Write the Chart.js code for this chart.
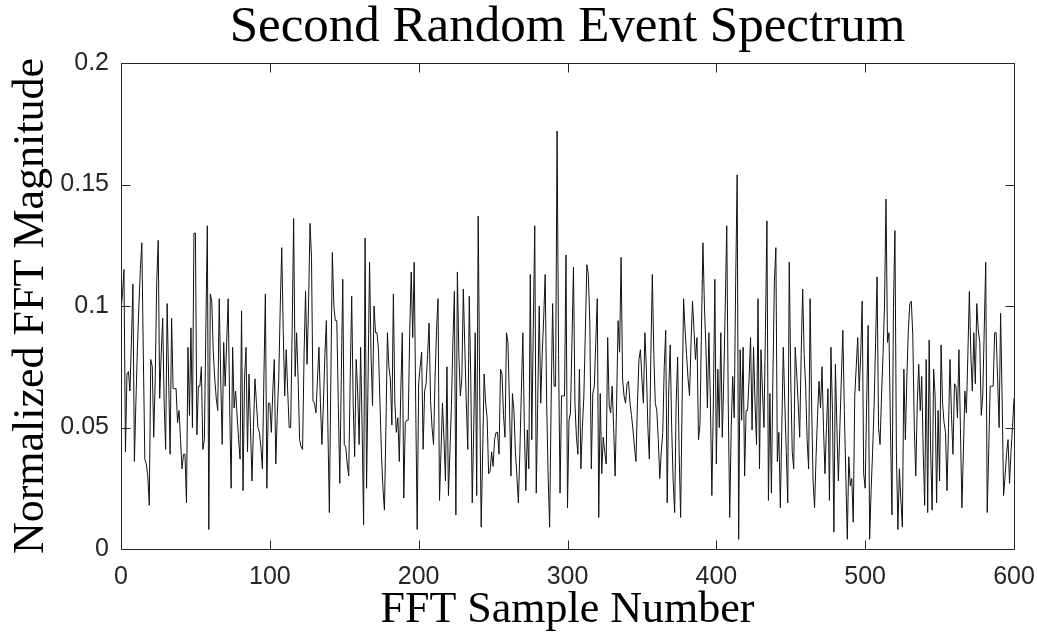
<!DOCTYPE html>
<html>
<head>
<meta charset="utf-8">
<script src="https://cdn.jsdelivr.net/npm/chart.js@4.4.1/dist/chart.umd.min.js"></script>
<style>
html,body{margin:0;padding:0;background:#fff;}
#wrap{width:1037px;height:635px;}
</style>
</head>
<body>
<div id="wrap"><canvas id="c" width="1037" height="635"></canvas></div>
<script>
const chartTitle = "Second Random Event Spectrum";
const xAxisTitle = "FFT Sample Number";
const yAxisTitle = "Normalized FFT Magnitude";
const xTickValues = [0, 100, 200, 300, 400, 500, 600];
const yTickValues = [0, 0.05, 0.1, 0.15, 0.2];

const magnitudeA = [
0.098,0.105,0.115,0.040,0.072,0.073,0.065,0.085,0.109,0.036,
0.060,0.082,0.100,0.115,0.126,0.080,0.037,0.035,0.030,0.018,
0.078,0.075,0.046,0.070,0.110,0.127,0.062,0.080,0.095,0.060,
0.041,0.101,0.070,0.039,0.095,0.066,0.066,0.066,0.052,0.057,
0.045,0.033,0.039,0.039,0.019,0.083,0.055,0.091,0.050,0.130,
0.130,0.047,0.067,0.067,0.075,0.041,0.045,0.090,0.133,0.008,
0.105,0.102,0.081,0.070,0.062,0.057,0.103,0.070,0.043,0.085,
0.067,0.085,0.103,0.060,0.025,0.083,0.058,0.065,0.055,0.045,
0.037,0.098,0.024,0.070,0.083,0.040,0.072,0.050,0.028,0.050,
0.070,0.060,0.050,0.048,0.042,0.033,0.070,0.105,0.025,0.060
];
const magnitudeB = [
0.060,0.048,0.065,0.078,0.035,0.055,0.070,0.100,0.124,0.090,
0.063,0.082,0.065,0.050,0.050,0.090,0.136,0.071,0.089,0.070,
0.045,0.042,0.041,0.080,0.106,0.076,0.100,0.134,0.120,0.061,
0.060,0.056,0.070,0.083,0.060,0.043,0.060,0.080,0.094,0.050,
0.015,0.070,0.122,0.100,0.094,0.094,0.060,0.027,0.070,0.111,
0.043,0.042,0.035,0.030,0.070,0.104,0.060,0.038,0.078,0.065,
0.043,0.083,0.050,0.010,0.128,0.025,0.070,0.118,0.080,0.059,
0.100,0.089,0.089,0.082,0.060,0.039,0.025,0.016,0.050,0.089,
0.075,0.070,0.051,0.105,0.060,0.048,0.054,0.036,0.065,0.089,
0.021,0.052,0.053,0.053,0.090,0.114,0.087,0.118,0.060,0.008
];
const magnitudeC = [
0.068,0.075,0.081,0.041,0.065,0.068,0.080,0.093,0.061,0.050,
0.043,0.070,0.090,0.103,0.020,0.040,0.060,0.045,0.028,0.075,
0.022,0.040,0.059,0.085,0.106,0.014,0.114,0.080,0.063,0.070,
0.107,0.083,0.060,0.041,0.104,0.070,0.019,0.050,0.089,0.022,
0.137,0.065,0.009,0.040,0.072,0.060,0.054,0.031,0.032,0.040,
0.034,0.045,0.048,0.048,0.039,0.074,0.072,0.055,0.046,0.089,
0.085,0.060,0.030,0.064,0.057,0.040,0.030,0.019,0.040,0.065,
0.089,0.050,0.024,0.049,0.033,0.113,0.045,0.090,0.133,0.023,
0.060,0.100,0.060,0.080,0.095,0.113,0.060,0.030,0.009,0.060,
0.101,0.067,0.067,0.172,0.080,0.023,0.063,0.063,0.063,0.121
];
const magnitudeD = [
0.017,0.053,0.056,0.085,0.116,0.060,0.046,0.039,0.074,0.033,
0.050,0.063,0.090,0.117,0.113,0.093,0.033,0.064,0.067,0.085,
0.103,0.013,0.064,0.031,0.046,0.040,0.035,0.087,0.059,0.056,
0.067,0.050,0.030,0.060,0.094,0.081,0.120,0.070,0.063,0.060,
0.068,0.069,0.060,0.055,0.049,0.042,0.036,0.060,0.078,0.082,
0.070,0.060,0.089,0.074,0.050,0.037,0.080,0.113,0.080,0.060,
0.057,0.045,0.029,0.040,0.048,0.075,0.090,0.019,0.065,0.084,
0.050,0.028,0.015,0.060,0.079,0.040,0.013,0.060,0.103,0.090,
0.080,0.070,0.063,0.085,0.102,0.090,0.078,0.087,0.045,0.051,
0.090,0.126,0.100,0.083,0.058,0.089,0.060,0.022,0.060,0.111
];
const magnitudeE = [
0.035,0.074,0.050,0.089,0.046,0.070,0.100,0.133,0.060,0.013,
0.050,0.071,0.054,0.110,0.154,0.004,0.082,0.053,0.083,0.030,
0.057,0.057,0.070,0.087,0.049,0.083,0.060,0.043,0.103,0.033,
0.082,0.065,0.050,0.090,0.135,0.020,0.064,0.023,0.070,0.110,
0.124,0.036,0.048,0.017,0.050,0.083,0.060,0.040,0.019,0.118,
0.070,0.040,0.033,0.083,0.072,0.060,0.046,0.080,0.107,0.080,
0.067,0.045,0.033,0.103,0.060,0.028,0.017,0.038,0.055,0.069,
0.058,0.075,0.050,0.031,0.050,0.066,0.020,0.083,0.057,0.007,
0.076,0.050,0.028,0.050,0.070,0.090,0.057,0.030,0.004,0.038,
0.026,0.029,0.011,0.063,0.075,0.087,0.065,0.080,0.102,0.031
];
const magnitudeF = [
0.025,0.060,0.092,0.004,0.024,0.040,0.059,0.085,0.112,0.050,
0.043,0.063,0.080,0.100,0.144,0.085,0.089,0.050,0.014,0.099,
0.131,0.040,0.008,0.033,0.020,0.009,0.074,0.045,0.070,0.090,
0.101,0.102,0.088,0.050,0.030,0.060,0.076,0.057,0.071,0.040,
0.018,0.078,0.015,0.086,0.040,0.016,0.074,0.063,0.019,0.057,
0.028,0.084,0.060,0.052,0.048,0.024,0.050,0.078,0.055,0.039,
0.068,0.067,0.054,0.082,0.050,0.017,0.040,0.065,0.056,0.080,
0.106,0.080,0.065,0.089,0.068,0.101,0.090,0.085,0.055,0.063,
0.090,0.118,0.015,0.040,0.067,0.067,0.067,0.089,0.089,0.070,
0.050,0.097,0.063,0.022,0.030,0.039,0.045,0.027,0.040,0.050,
0.062
];
const magnitude = [].concat(magnitudeA, magnitudeB, magnitudeC, magnitudeD, magnitudeE, magnitudeF);
const sampleNumbers = magnitude.map((v, i) => i);
const points = magnitude.map((v, i) => ({x: sampleNumbers[i], y: v}));

const AXIS_COLOR = '#262626';
const TICK_LEN = 9;
const SERIF = '"Liberation Serif", "DejaVu Serif", serif';
const SANS = '"Liberation Sans", Arial, sans-serif';

const boxPlugin = {
  id: 'matlabBox',
  afterDatasetsDraw(chart) {
    const {ctx, chartArea, scales} = chart;
    const l = Math.round(chartArea.left) + 0.5, r = Math.round(chartArea.right) + 0.5;
    const t = Math.round(chartArea.top) + 0.5, b = Math.round(chartArea.bottom) + 0.5;
    ctx.save();
    ctx.strokeStyle = AXIS_COLOR;
    ctx.lineWidth = 1;
    ctx.beginPath();
    ctx.rect(l, t, r - l, b - t);
    scales.x.ticks.forEach(tk => {
      const px = Math.round(scales.x.getPixelForValue(tk.value)) + 0.5;
      ctx.moveTo(px, b); ctx.lineTo(px, b - TICK_LEN);
      ctx.moveTo(px, t); ctx.lineTo(px, t + TICK_LEN);
    });
    scales.y.ticks.forEach(tk => {
      const py = Math.round(scales.y.getPixelForValue(tk.value)) + 0.5;
      ctx.moveTo(l, py); ctx.lineTo(l + TICK_LEN, py);
      ctx.moveTo(r, py); ctx.lineTo(r - TICK_LEN, py);
    });
    ctx.stroke();
    // title centred over the plot area
    ctx.fillStyle = '#000';
    ctx.font = '51px ' + SERIF;
    ctx.textAlign = 'center';
    ctx.textBaseline = 'alphabetic';
    ctx.fillText(chartTitle, (chartArea.left + chartArea.right) / 2, 41);
    ctx.restore();
  }
};

new Chart(document.getElementById('c'), {
  type: 'line',
  data: {
    datasets: [{
      data: points,
      borderColor: '#111111',
      borderWidth: 1,
      pointRadius: 0,
      tension: 0,
      fill: false
    }]
  },
  options: {
    responsive: false,
    animation: false,
    devicePixelRatio: 1,
    layout: {padding: {left: 0, right: 23, top: 63, bottom: 0}},
    plugins: {
      legend: {display: false},
      tooltip: {enabled: false},
      title: {display: false}
    },
    scales: {
      x: {
        type: 'linear',
        min: 0, max: 600,
        afterBuildTicks: s => { s.ticks = xTickValues.map(v => ({value: v})); },
        afterFit: s => { s.height = 86; s.paddingLeft = 0; s.paddingRight = 0; },
        grid: {display: false, drawTicks: false},
        border: {display: false},
        ticks: {
          color: AXIS_COLOR,
          padding: 13,
          maxRotation: 0,
          font: {family: SANS, size: 25},
          callback: v => String(v)
        },
        title: {
          display: true,
          text: xAxisTitle,
          color: '#000',
          font: {family: SERIF, size: 44, lineHeight: 1.1},
          padding: {top: 0, bottom: 0}
        }
      },
      y: {
        type: 'linear',
        min: 0, max: 0.2,
        afterBuildTicks: s => { s.ticks = yTickValues.map(v => ({value: v})); },
        afterFit: s => { s.width = 121; s.paddingTop = 0; s.paddingBottom = 0; },
        grid: {display: false, drawTicks: false},
        border: {display: false},
        ticks: {
          color: AXIS_COLOR,
          padding: 12,
          font: {family: SANS, size: 25},
          callback: v => String(+Number(v).toFixed(2))
        },
        title: {
          display: true,
          text: yAxisTitle,
          color: '#000',
          font: {family: SERIF, size: 44, lineHeight: 1.1},
          padding: {top: 7, bottom: 0}
        }
      }
    }
  },
  plugins: [boxPlugin]
});
</script>
</body>
</html>
